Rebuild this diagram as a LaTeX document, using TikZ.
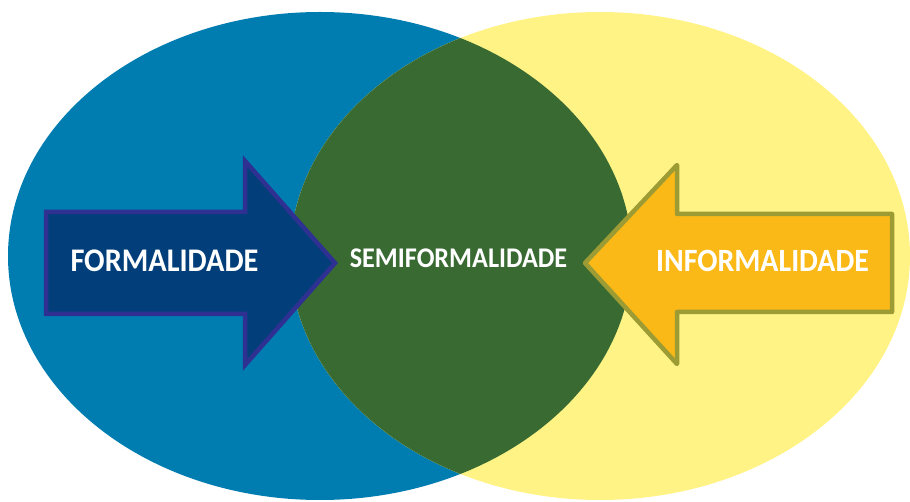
\documentclass[tikz,border=0pt]{standalone}
\usepackage{fontspec}
\setmainfont{Carlito}
\definecolor{formalblue}{HTML}{007DB0}
\definecolor{informalyellow}{HTML}{FFF385}
\definecolor{semigreen}{HTML}{386A32}
\definecolor{arrowblue}{HTML}{023F7A}
\definecolor{arrowblueline}{HTML}{2E3192}
\definecolor{arrowyellow}{HTML}{FBB917}
\definecolor{arrowyellowline}{HTML}{9C9B34}
\tikzset{
  label/.style={text=white, font=\bfseries, inner sep=0pt},
}
\newcommand{\setlabel}[2]{\scalebox{0.92}[1]{\fontsize{#1}{#1}\selectfont #2}}
\begin{document}
\begin{tikzpicture}[x=1pt, y=-1pt]
    \useasboundingbox (0,0) rectangle (910,502);

    % Two sets
    \fill[formalblue] (320,256) ellipse [x radius=312, y radius=244];
    \fill[informalyellow] (600,256) ellipse [x radius=310, y radius=244];
    \begin{scope}
        \clip (320,256) ellipse [x radius=312, y radius=244];
        \fill[semigreen] (600,256) ellipse [x radius=310, y radius=244]; % overlap
    \end{scope}

    % Arrows
    \draw[arrowblueline, line width=4.5pt, fill=arrowblue] (46,212) -- (245,212) -- (245,161) -- (335,263) -- (245,365) -- (245,314) -- (46,314) -- cycle;
    \draw[arrowyellowline, line width=4.5pt, line join=round, fill=arrowyellow] (892,214) -- (677,214) -- (677,165) -- (585,263) -- (677,364) -- (677,312) -- (892,312) -- cycle;

    % Labels
    \node[label] (formal) at (164.5,261) {\setlabel{33}{FORMALIDADE}};
    \node[label] (semi) at (458.5,258) {\setlabel{28.5}{SEMIFORMALIDADE}};
    \node[label] (informal) at (762.5,261) {\setlabel{32.5}{INFORMALIDADE}};
\end{tikzpicture}
\end{document}
